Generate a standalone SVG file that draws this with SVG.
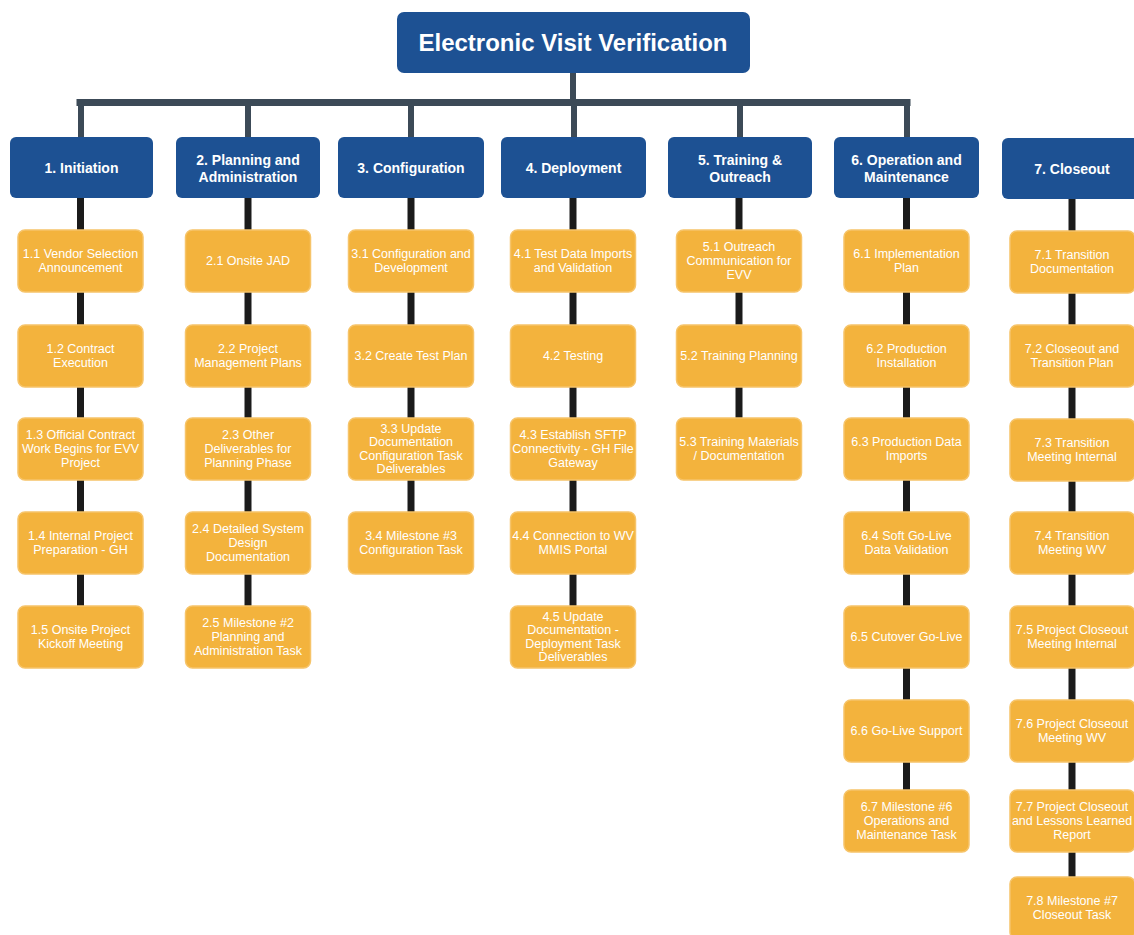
<svg xmlns="http://www.w3.org/2000/svg" width="1134" height="935" viewBox="0 0 1134 935">
<style>
.bg{fill:#ffffff}
.blue{fill:#1d5193}
.task{fill:#f3b33d;stroke:#f6c46a;stroke-width:1.5}
.tt{font-family:"Liberation Sans",Arial,sans-serif;font-weight:bold;font-size:24px;fill:#ffffff;text-anchor:middle}
.ht{font-family:"Liberation Sans",Arial,sans-serif;font-weight:bold;font-size:14px;fill:#ffffff;text-anchor:middle}
.t{font-family:"Liberation Sans",Arial,sans-serif;font-size:12.5px;fill:#ffffff;text-anchor:middle}
.trunk{stroke:#3c4a57;stroke-width:7;fill:none;stroke-linecap:square}
.drop{stroke:#3c4a57;stroke-width:6;fill:none}
.link{stroke:#1b1b1b;stroke-width:7;fill:none}
</style>
<rect class="bg" x="0" y="0" width="1134" height="935"/>

<g id="connectors">
  <line class="drop" x1="573" y1="73" x2="573" y2="104"/>
  <line class="trunk" x1="80" y1="102.5" x2="907" y2="102.5"/>
  <line class="drop" x1="81" y1="103" x2="81" y2="137"/>
  <line class="drop" x1="248" y1="103" x2="248" y2="137"/>
  <line class="drop" x1="411" y1="103" x2="411" y2="137"/>
  <line class="drop" x1="574" y1="103" x2="574" y2="137"/>
  <line class="drop" x1="740" y1="103" x2="740" y2="137"/>
  <line class="drop" x1="907" y1="103" x2="907" y2="137"/>
  <!-- column 1 -->
  <line class="link" x1="80.5" y1="198" x2="80.5" y2="230"/>
  <line class="link" x1="80.5" y1="292" x2="80.5" y2="325"/>
  <line class="link" x1="80.5" y1="387" x2="80.5" y2="418"/>
  <line class="link" x1="80.5" y1="480" x2="80.5" y2="512"/>
  <line class="link" x1="80.5" y1="574" x2="80.5" y2="606"/>
  <!-- column 2 -->
  <line class="link" x1="248" y1="198" x2="248" y2="230"/>
  <line class="link" x1="248" y1="292" x2="248" y2="325"/>
  <line class="link" x1="248" y1="387" x2="248" y2="418"/>
  <line class="link" x1="248" y1="480" x2="248" y2="512"/>
  <line class="link" x1="248" y1="574" x2="248" y2="606"/>
  <!-- column 3 -->
  <line class="link" x1="411" y1="198" x2="411" y2="230"/>
  <line class="link" x1="411" y1="292" x2="411" y2="325"/>
  <line class="link" x1="411" y1="387" x2="411" y2="418"/>
  <line class="link" x1="411" y1="480" x2="411" y2="512"/>
  <!-- column 4 -->
  <line class="link" x1="573" y1="198" x2="573" y2="230"/>
  <line class="link" x1="573" y1="292" x2="573" y2="325"/>
  <line class="link" x1="573" y1="387" x2="573" y2="418"/>
  <line class="link" x1="573" y1="480" x2="573" y2="512"/>
  <line class="link" x1="573" y1="574" x2="573" y2="606"/>
  <!-- column 5 -->
  <line class="link" x1="739" y1="198" x2="739" y2="230"/>
  <line class="link" x1="739" y1="292" x2="739" y2="325"/>
  <line class="link" x1="739" y1="387" x2="739" y2="418"/>
  <!-- column 6 -->
  <line class="link" x1="906.5" y1="198" x2="906.5" y2="230"/>
  <line class="link" x1="906.5" y1="292" x2="906.5" y2="325"/>
  <line class="link" x1="906.5" y1="387" x2="906.5" y2="418"/>
  <line class="link" x1="906.5" y1="480" x2="906.5" y2="512"/>
  <line class="link" x1="906.5" y1="574" x2="906.5" y2="606"/>
  <line class="link" x1="906.5" y1="668" x2="906.5" y2="700"/>
  <line class="link" x1="906.5" y1="762" x2="906.5" y2="790"/>
  <!-- column 7 -->
  <line class="link" x1="1072" y1="198" x2="1072" y2="231"/>
  <line class="link" x1="1072" y1="293" x2="1072" y2="325"/>
  <line class="link" x1="1072" y1="387" x2="1072" y2="419"/>
  <line class="link" x1="1072" y1="481" x2="1072" y2="512"/>
  <line class="link" x1="1072" y1="574" x2="1072" y2="606"/>
  <line class="link" x1="1072" y1="668" x2="1072" y2="700"/>
  <line class="link" x1="1072" y1="762" x2="1072" y2="790"/>
  <line class="link" x1="1072" y1="852" x2="1072" y2="877"/>
</g>

<g id="root"><rect class="blue" x="397" y="12" width="353" height="61" rx="7"/><text class="tt" x="573" y="51">Electronic Visit Verification</text></g>

<g id="h1"><rect class="blue" x="10" y="137" width="143" height="61" rx="6"/><text class="ht" x="81.5" y="173">1. Initiation</text></g>
<g id="h2"><rect class="blue" x="176" y="137" width="144" height="61" rx="6"/><text class="ht" x="248"><tspan x="248" y="165">2. Planning and</tspan><tspan x="248" y="182">Administration</tspan></text></g>
<g id="h3"><rect class="blue" x="338" y="137" width="146" height="61" rx="6"/><text class="ht" x="411" y="173">3. Configuration</text></g>
<g id="h4"><rect class="blue" x="501" y="137" width="145" height="61" rx="6"/><text class="ht" x="573.5" y="173">4. Deployment</text></g>
<g id="h5"><rect class="blue" x="668" y="137" width="144" height="61" rx="6"/><text class="ht"><tspan x="740" y="165">5. Training &amp;</tspan><tspan x="740" y="182">Outreach</tspan></text></g>
<g id="h6"><rect class="blue" x="834" y="137" width="145" height="61" rx="6"/><text class="ht"><tspan x="906.5" y="165">6. Operation and</tspan><tspan x="906.5" y="182">Maintenance</tspan></text></g>
<g id="h7"><rect class="blue" x="1002" y="138" width="145" height="61" rx="6"/><text class="ht" x="1072" y="174">7. Closeout</text></g>

<!-- Column 1 -->
<g id="n1-1"><rect class="task" x="18" y="230" width="125" height="62" rx="7"/><text class="t"><tspan x="80.5" y="258">1.1 Vendor Selection</tspan><tspan x="80.5" y="272">Announcement</tspan></text></g>
<g id="n1-2"><rect class="task" x="18" y="325" width="125" height="62" rx="7"/><text class="t"><tspan x="80.5" y="353">1.2 Contract</tspan><tspan x="80.5" y="367">Execution</tspan></text></g>
<g id="n1-3"><rect class="task" x="18" y="418" width="125" height="62" rx="7"/><text class="t"><tspan x="80.5" y="439">1.3 Official Contract</tspan><tspan x="80.5" y="453">Work Begins for EVV</tspan><tspan x="80.5" y="467">Project</tspan></text></g>
<g id="n1-4"><rect class="task" x="18" y="512" width="125" height="62" rx="7"/><text class="t"><tspan x="80.5" y="540">1.4 Internal Project</tspan><tspan x="80.5" y="554">Preparation - GH</tspan></text></g>
<g id="n1-5"><rect class="task" x="18" y="606" width="125" height="62" rx="7"/><text class="t"><tspan x="80.5" y="634">1.5 Onsite Project</tspan><tspan x="80.5" y="648">Kickoff Meeting</tspan></text></g>

<!-- Column 2 -->
<g id="n2-1"><rect class="task" x="185.5" y="230" width="125" height="62" rx="7"/><text class="t" x="248" y="265">2.1 Onsite JAD</text></g>
<g id="n2-2"><rect class="task" x="185.5" y="325" width="125" height="62" rx="7"/><text class="t"><tspan x="248" y="353">2.2 Project</tspan><tspan x="248" y="367">Management Plans</tspan></text></g>
<g id="n2-3"><rect class="task" x="185.5" y="418" width="125" height="62" rx="7"/><text class="t"><tspan x="248" y="439">2.3 Other</tspan><tspan x="248" y="453">Deliverables for</tspan><tspan x="248" y="467">Planning Phase</tspan></text></g>
<g id="n2-4"><rect class="task" x="185.5" y="512" width="125" height="62" rx="7"/><text class="t"><tspan x="248" y="533">2.4 Detailed System</tspan><tspan x="248" y="547">Design</tspan><tspan x="248" y="561">Documentation</tspan></text></g>
<g id="n2-5"><rect class="task" x="185.5" y="606" width="125" height="62" rx="7"/><text class="t"><tspan x="248" y="627">2.5 Milestone #2</tspan><tspan x="248" y="641">Planning and</tspan><tspan x="248" y="655">Administration Task</tspan></text></g>

<!-- Column 3 -->
<g id="n3-1"><rect class="task" x="348.5" y="230" width="125" height="62" rx="7"/><text class="t"><tspan x="411" y="258">3.1 Configuration and</tspan><tspan x="411" y="272">Development</tspan></text></g>
<g id="n3-2"><rect class="task" x="348.5" y="325" width="125" height="62" rx="7"/><text class="t" x="411" y="360">3.2 Create Test Plan</text></g>
<g id="n3-3"><rect class="task" x="348.5" y="418" width="125" height="62" rx="7"/><text class="t"><tspan x="411" y="432.5">3.3 Update</tspan><tspan x="411" y="446">Documentation</tspan><tspan x="411" y="459.5">Configuration Task</tspan><tspan x="411" y="473">Deliverables</tspan></text></g>
<g id="n3-4"><rect class="task" x="348.5" y="512" width="125" height="62" rx="7"/><text class="t"><tspan x="411" y="540">3.4 Milestone #3</tspan><tspan x="411" y="554">Configuration Task</tspan></text></g>

<!-- Column 4 -->
<g id="n4-1"><rect class="task" x="510.5" y="230" width="125" height="62" rx="7"/><text class="t"><tspan x="573" y="258">4.1 Test Data Imports</tspan><tspan x="573" y="272">and Validation</tspan></text></g>
<g id="n4-2"><rect class="task" x="510.5" y="325" width="125" height="62" rx="7"/><text class="t" x="573" y="360">4.2 Testing</text></g>
<g id="n4-3"><rect class="task" x="510.5" y="418" width="125" height="62" rx="7"/><text class="t"><tspan x="573" y="439">4.3 Establish SFTP</tspan><tspan x="573" y="453">Connectivity - GH File</tspan><tspan x="573" y="467">Gateway</tspan></text></g>
<g id="n4-4"><rect class="task" x="510.5" y="512" width="125" height="62" rx="7"/><text class="t"><tspan x="573" y="540">4.4 Connection to WV</tspan><tspan x="573" y="554">MMIS Portal</tspan></text></g>
<g id="n4-5"><rect class="task" x="510.5" y="606" width="125" height="62" rx="7"/><text class="t"><tspan x="573" y="620.5">4.5 Update</tspan><tspan x="573" y="634">Documentation -</tspan><tspan x="573" y="647.5">Deployment Task</tspan><tspan x="573" y="661">Deliverables</tspan></text></g>

<!-- Column 5 -->
<g id="n5-1"><rect class="task" x="676.5" y="230" width="125" height="62" rx="7"/><text class="t"><tspan x="739" y="251">5.1 Outreach</tspan><tspan x="739" y="265">Communication for</tspan><tspan x="739" y="279">EVV</tspan></text></g>
<g id="n5-2"><rect class="task" x="676.5" y="325" width="125" height="62" rx="7"/><text class="t" x="739" y="360">5.2 Training Planning</text></g>
<g id="n5-3"><rect class="task" x="676.5" y="418" width="125" height="62" rx="7"/><text class="t"><tspan x="739" y="446">5.3 Training Materials</tspan><tspan x="739" y="460">/ Documentation</tspan></text></g>

<!-- Column 6 -->
<g id="n6-1"><rect class="task" x="844" y="230" width="125" height="62" rx="7"/><text class="t"><tspan x="906.5" y="258">6.1 Implementation</tspan><tspan x="906.5" y="272">Plan</tspan></text></g>
<g id="n6-2"><rect class="task" x="844" y="325" width="125" height="62" rx="7"/><text class="t"><tspan x="906.5" y="353">6.2 Production</tspan><tspan x="906.5" y="367">Installation</tspan></text></g>
<g id="n6-3"><rect class="task" x="844" y="418" width="125" height="62" rx="7"/><text class="t"><tspan x="906.5" y="446">6.3 Production Data</tspan><tspan x="906.5" y="460">Imports</tspan></text></g>
<g id="n6-4"><rect class="task" x="844" y="512" width="125" height="62" rx="7"/><text class="t"><tspan x="906.5" y="540">6.4 Soft Go-Live</tspan><tspan x="906.5" y="554">Data Validation</tspan></text></g>
<g id="n6-5"><rect class="task" x="844" y="606" width="125" height="62" rx="7"/><text class="t" x="906.5" y="641">6.5 Cutover Go-Live</text></g>
<g id="n6-6"><rect class="task" x="844" y="700" width="125" height="62" rx="7"/><text class="t" x="906.5" y="735">6.6 Go-Live Support</text></g>
<g id="n6-7"><rect class="task" x="844" y="790" width="125" height="62" rx="7"/><text class="t"><tspan x="906.5" y="811">6.7 Milestone #6</tspan><tspan x="906.5" y="825">Operations and</tspan><tspan x="906.5" y="839">Maintenance Task</tspan></text></g>

<!-- Column 7 -->
<g id="n7-1"><rect class="task" x="1010" y="231" width="125" height="62" rx="7"/><text class="t"><tspan x="1072" y="259">7.1 Transition</tspan><tspan x="1072" y="273">Documentation</tspan></text></g>
<g id="n7-2"><rect class="task" x="1010" y="325" width="125" height="62" rx="7"/><text class="t"><tspan x="1072" y="353">7.2 Closeout and</tspan><tspan x="1072" y="367">Transition Plan</tspan></text></g>
<g id="n7-3"><rect class="task" x="1010" y="419" width="125" height="62" rx="7"/><text class="t"><tspan x="1072" y="447">7.3 Transition</tspan><tspan x="1072" y="461">Meeting Internal</tspan></text></g>
<g id="n7-4"><rect class="task" x="1010" y="512" width="125" height="62" rx="7"/><text class="t"><tspan x="1072" y="540">7.4 Transition</tspan><tspan x="1072" y="554">Meeting WV</tspan></text></g>
<g id="n7-5"><rect class="task" x="1010" y="606" width="125" height="62" rx="7"/><text class="t"><tspan x="1072" y="634">7.5 Project Closeout</tspan><tspan x="1072" y="648">Meeting Internal</tspan></text></g>
<g id="n7-6"><rect class="task" x="1010" y="700" width="125" height="62" rx="7"/><text class="t"><tspan x="1072" y="728">7.6 Project Closeout</tspan><tspan x="1072" y="742">Meeting WV</tspan></text></g>
<g id="n7-7"><rect class="task" x="1010" y="790" width="125" height="62" rx="7"/><text class="t"><tspan x="1072" y="811">7.7 Project Closeout</tspan><tspan x="1072" y="825">and Lessons Learned</tspan><tspan x="1072" y="839">Report</tspan></text></g>
<g id="n7-8"><rect class="task" x="1010" y="877" width="125" height="62" rx="7"/><text class="t"><tspan x="1072" y="905">7.8 Milestone #7</tspan><tspan x="1072" y="919">Closeout Task</tspan></text></g>
</svg>
